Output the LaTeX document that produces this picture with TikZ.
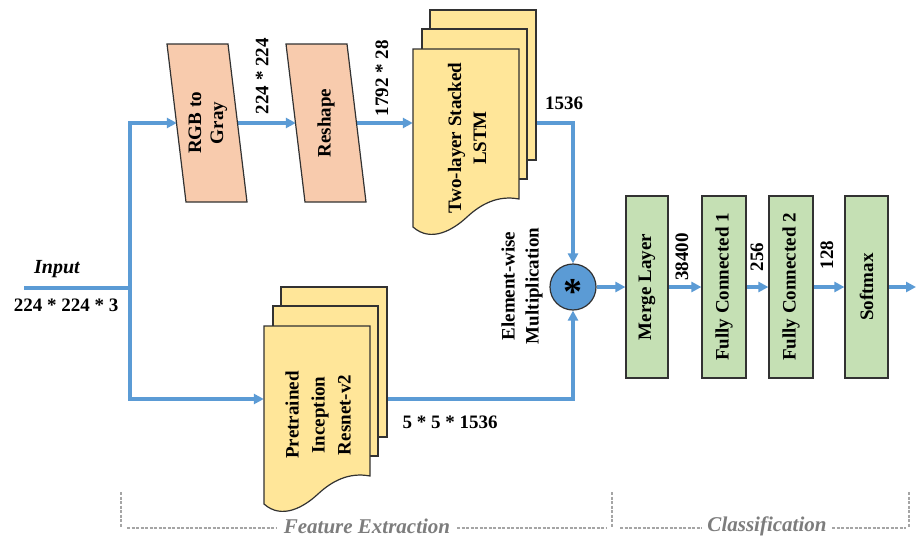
\documentclass[tikz,border=0pt]{standalone}
\usepackage{fontspec}
\setmainfont{Liberation Serif}
\usetikzlibrary{arrows.meta}
\pgfdeclarelayer{paper}
\pgfdeclarelayer{behind}
\pgfsetlayers{paper,behind,main}
\definecolor{lineblue}{RGB}{91,155,213}
\definecolor{peach}{RGB}{248,203,173}
\definecolor{docyellow}{RGB}{255,230,153}
\definecolor{boxgreen}{RGB}{197,224,180}
\definecolor{edgegray}{RGB}{50,50,50}
\definecolor{dashgray}{RGB}{165,165,165}
\definecolor{textgray}{RGB}{125,125,125}
\newcommand{\stackdoc}[2]{%
  \begin{scope}[shift={(#1,#2)}]
    \draw[docpage] (17,-39) rectangle (123,111);
    \draw[docpage] (9,-20) rectangle (114,130);
    \draw[docpage] (0,0) -- (106,0) -- (106,150)
      .. controls (85,146) and (68,155) .. (54,168)
      .. controls (40,181) and (18,194) .. (0,178) -- cycle;
  \end{scope}}
\newcommand{\slantbox}[2]{%
  \begin{scope}[shift={(#1,#2)}]
    \draw[parabox] (-40,-79) -- (21,-79) -- (40,79) -- (-21,79) -- cycle;
  \end{scope}}
\begin{document}
\begin{tikzpicture}[x=1pt,y=-1pt,
  flow/.style={lineblue, line width=3.2pt, -{Triangle[length=10pt,width=10pt]}},
  plainflow/.style={lineblue, line width=3.2pt},
  lbl/.style={font=\fontsize{19}{25}\selectfont\bfseries, inner sep=0pt, align=center},
  vlbl/.style={lbl, rotate=90},
  parabox/.style={draw=edgegray, line width=1.2pt, fill=peach},
  layer/.style={rectangle, draw=edgegray, line width=1.2pt, fill=boxgreen,
    minimum height=182pt, inner sep=0pt},
  docpage/.style={draw=edgegray, line width=1.2pt, fill=docyellow},
  area/.style={inner sep=0pt, minimum width=106pt},
  hole/.style={inner sep=0pt, minimum width=60pt, minimum height=158pt},
  bracket/.style={dashgray, line width=1.2pt, dash pattern=on 3pt off 1.5pt},
  section/.style={font=\fontsize{21}{23}\selectfont\bfseries\itshape, text=textgray, inner sep=0pt}
]
\begin{pgfonlayer}{paper}
\fill[white] (0,0) rectangle (916,538);
\end{pgfonlayer}
\useasboundingbox (0,0) rectangle (916,538);

% input
\coordinate (inL) at (24,288);
\coordinate (jn) at (130,288);
\node[font=\fontsize{20}{22}\selectfont\bfseries\itshape, inner sep=0pt] at (57,269) {Input};
\node[lbl] at (66,305) {224 * 224 * 3};

% top branch
\slantbox{207}{123}
\node[hole] (rgb) at (207,123) {};
\node[lbl, rotate=90, font=\fontsize{19}{22}\selectfont\bfseries] at (208,123) {RGB to\\Gray};
\slantbox{326}{123}
\node[hole] (reshape) at (326,123) {};
\node[vlbl] at (326,123) {Reshape};

\stackdoc{413}{49}
\node[area, minimum height=150pt] (lstm) at (466,123) {};
\node[vlbl] at (467,138) {Two-layer Stacked\\LSTM};

% bottom branch
\stackdoc{264}{326}
\node[area, minimum height=146pt] (incep) at (317,399) {};
\node[vlbl, font=\fontsize{19}{26}\selectfont\bfseries] at (318,415) {Pretrained\\Inception\\Resnet-v2};

% multiplication
\node[circle, draw=edgegray, fill=lineblue, minimum size=46pt, inner sep=0pt, line width=1.2pt] (mult) at (573,287) {};
\node[font=\fontsize{38}{38}\selectfont\bfseries, inner sep=0pt] at (573,292) {*};
\node[vlbl, font=\fontsize{19}{24}\selectfont\bfseries] at (522,286) {Element-wise\\Multiplication};

% classification
\node[layer, minimum width=42pt] (merge) at (647,287) {};
\node[vlbl] at (647,287) {Merge Layer};
\node[layer, minimum width=44pt] (fc1) at (724,287) {};
\node[vlbl] at (724,287) {Fully Connected 1};
\node[layer, minimum width=44pt] (fc2) at (791,287) {};
\node[vlbl] at (791,287) {Fully Connected 2};
\node[layer, minimum width=43pt] (soft) at (866.5,287) {};
\node[vlbl] at (866.5,287) {Softmax};
\coordinate (out) at (916,287);

% connectors (behind the shapes)
\begin{pgfonlayer}{behind}
\draw[plainflow] (inL) -- (jn);
\draw[flow] (jn) |- (rgb);
\draw[flow] (jn) |- (incep);
\draw[flow] (rgb) -- (reshape);
\draw[flow] (reshape) -- (lstm);
\draw[flow] (lstm.east) -| (mult.north);
\draw[flow] (incep.east) -| (mult.south);
\draw[flow] (mult) -- (merge);
\draw[flow] (merge) -- (fc1);
\draw[flow] (fc1) -- (fc2);
\draw[flow] (fc2) -- (soft);
\draw[flow] (soft) -- (out);
\end{pgfonlayer}

% labels
\node[vlbl] at (262,76) {224 * 224};
\node[vlbl] at (382,78) {1792 * 28};
\node[lbl] at (564,103) {1536};
\node[lbl] at (450,422) {5 * 5 * 1536};
\node[vlbl] at (682,257) {38400};
\node[vlbl] at (757,257) {256};
\node[vlbl] at (827,255) {128};

% section brackets
\draw[bracket] (121,492) -- (121,528);
\draw[bracket] (127,528) -- (277,528);
\node[section] at (367,526) {Feature Extraction};
\draw[bracket] (457,528) -- (607,528);
\draw[bracket] (612,492) -- (612,528);
\draw[bracket] (620,528) -- (702,528);
\node[section] at (767,526) {Classification};
\draw[bracket] (832,528) -- (906,528);
\draw[bracket] (909,492) -- (909,528);
\end{tikzpicture}
\end{document}
